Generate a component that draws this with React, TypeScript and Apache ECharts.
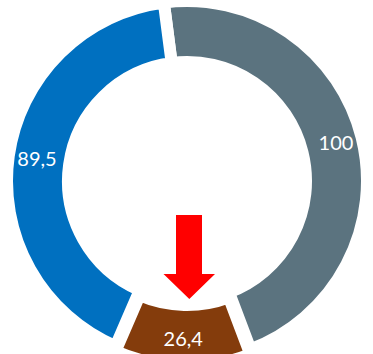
import React, { useEffect, useRef } from "react";
import * as echarts from "echarts";

const categories = ["A", "B", "C"];
const values = [100, 26.4, 89.5];
const colors = ["#5B737F", "#843C0C", "#0070C0"];
const selectedIndex = 1;

export default function App() {
  const ref = useRef<HTMLDivElement>(null);
  useEffect(() => {
    document.body.style.margin = "0";
    if (!ref.current) return;
    const chart = echarts.init(ref.current, null, { renderer: "svg" });
    chart.setOption({
      animation: false,
      backgroundColor: "#ffffff",
      series: [
        {
          type: "pie",
          center: [187, 181],
          radius: [119, 180],
          startAngle: 97.4,
          clockwise: true,
          avoidLabelOverlap: false,
          selectedMode: "single",
          selectedOffset: 5,
          emphasis: { disabled: true },
          itemStyle: { borderColor: "#ffffff", borderWidth: 12 },
          label: {
            show: true,
            position: "inside",
            color: "#ffffff",
            fontFamily: "Lato",
            fontSize: 20,
            formatter: (p: any) => String(p.value).replace(".", ","),
          },
          labelLine: { show: false },
          data: categories.map((c, i) => ({
            name: c,
            value: values[i],
            selected: i === selectedIndex,
            itemStyle: { color: colors[i] },
            label: i === selectedIndex ? { offset: [0, -5] } : { offset: [1, -2] },
          })),
        },
      ],
      graphic: [
        {
          type: "polygon",
          shape: {
            points: [
              [176, 215],
              [202, 215],
              [202, 274],
              [215, 274],
              [189.3, 299],
              [163.5, 274],
              [176, 274],
            ],
          },
          style: { fill: "#FF0000" },
          z: 100,
        },
      ],
    });
    return () => chart.dispose();
  }, []);
  return <div ref={ref} style={{ width: 373, height: 354 }} />;
}
